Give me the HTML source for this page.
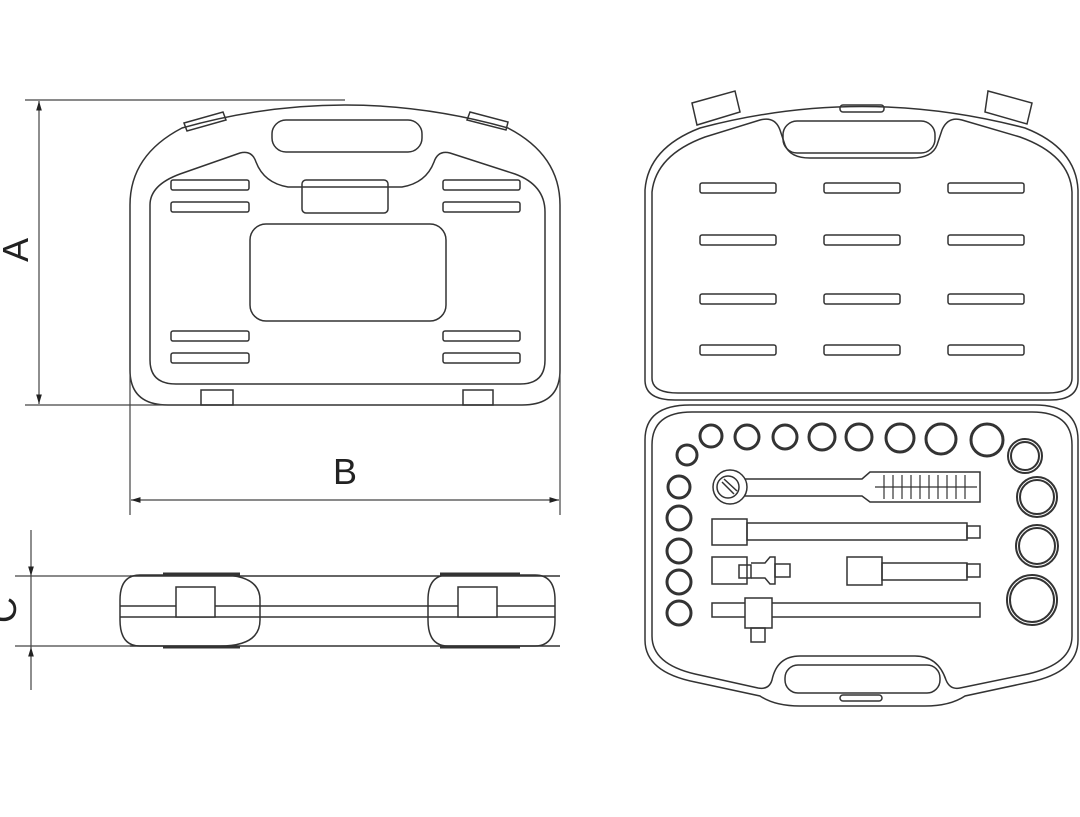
<!DOCTYPE html>
<html><head><meta charset="utf-8"><style>html,body{margin:0;padding:0;background:#fff}svg{display:block}</style></head>
<body>
<svg width="1080" height="817" viewBox="0 0 1080 817" xmlns="http://www.w3.org/2000/svg" font-family="Liberation Sans, sans-serif">
<defs>
<marker id="ar" viewBox="0 0 10 10" refX="10" refY="5" markerWidth="8" markerHeight="8" orient="auto-start-reverse"><path d="M0,2 L10,5 L0,8Z" fill="#222"/></marker>
</defs>
<g fill="none" stroke="#333" stroke-width="1.5">
<path d="M130,370 L130,205 Q130,155 182,128 Q345,82 508,128 Q560,155 560,205 L560,370 Q560,405 522,405 L168,405 Q130,405 130,370Z"/>
<path d="M150,360 L150,205 Q150,185 180,174 L240,153 Q252,150 256,162 Q264,183 288,187 L402,187 Q426,183 434,162 Q438,150 450,153 L515,174 Q545,185 545,212 L545,360 Q545,384 520,384 L176,384 Q150,384 150,360Z"/>
<rect x="272" y="120" width="150" height="32" rx="14"/>
<path d="M184,123 L223,112 L226,120 L187,131Z"/>
<path d="M470,112 L508,122 L506,130 L467,120Z"/>
<rect x="171" y="180" width="78" height="10" rx="2"/>
<rect x="171" y="202" width="78" height="10" rx="2"/>
<rect x="171" y="331" width="78" height="10" rx="2"/>
<rect x="171" y="353" width="78" height="10" rx="2"/>
<rect x="443" y="180" width="77" height="10" rx="2"/>
<rect x="443" y="202" width="77" height="10" rx="2"/>
<rect x="443" y="331" width="77" height="10" rx="2"/>
<rect x="443" y="353" width="77" height="10" rx="2"/>
<rect x="302" y="180" width="86" height="33" rx="4"/>
<rect x="250" y="224" width="196" height="97" rx="16"/>
<rect x="201" y="390" width="32" height="15"/>
<rect x="463" y="390" width="30" height="15"/>
</g>
<g stroke="#444" stroke-width="1.2" fill="none">
<line x1="25" y1="100" x2="345" y2="100"/>
<line x1="25" y1="405" x2="200" y2="405"/>
<line x1="39" y1="101" x2="39" y2="404" marker-start="url(#ar)" marker-end="url(#ar)"/>
<line x1="130" y1="370" x2="130" y2="515"/>
<line x1="560" y1="370" x2="560" y2="515"/>
<line x1="131" y1="500" x2="559" y2="500" marker-start="url(#ar)" marker-end="url(#ar)"/>
<line x1="31" y1="530" x2="31" y2="576" marker-end="url(#ar)"/>
<line x1="31" y1="690" x2="31" y2="647" marker-end="url(#ar)"/>
<line x1="31" y1="576" x2="31" y2="647"/>
<line x1="15" y1="576" x2="130" y2="576"/>
<line x1="15" y1="646" x2="130" y2="646"/>
</g>
<text x="0" y="0" transform="translate(28,250) rotate(-90)" font-size="36" fill="#222" text-anchor="middle">A</text>
<text x="345" y="484" font-size="36" fill="#222" text-anchor="middle">B</text>
<text x="0" y="0" transform="translate(16,610) rotate(-90)" font-size="36" fill="#222" text-anchor="middle">C</text>
<g fill="none" stroke="#333" stroke-width="1.5">
<path d="M140,575 L220,575 Q260,575 260,600 L260,620 Q260,646 220,646 L140,646 Q120,646 120,620 L120,600 Q120,575 140,575Z"/>
<path d="M448,575 L535,575 Q555,575 555,600 L555,620 Q555,646 535,646 L448,646 Q428,646 428,620 L428,600 Q428,575 448,575Z"/>
<line x1="130" y1="576" x2="560" y2="576"/>
<line x1="130" y1="646" x2="560" y2="646"/>
<line x1="120" y1="606" x2="555" y2="606"/>
<line x1="120" y1="617" x2="555" y2="617"/>
<rect x="176" y="587" width="39" height="30" fill="#fff"/>
<rect x="458" y="587" width="39" height="30" fill="#fff"/>
</g>
<g stroke="#333" stroke-width="3"><line x1="163" y1="574" x2="240" y2="574"/><line x1="440" y1="574" x2="520" y2="574"/><line x1="163" y1="647" x2="240" y2="647"/><line x1="440" y1="647" x2="520" y2="647"/></g>
<g fill="none" stroke="#333" stroke-width="1.5">
<path d="M645,380 L645,190 Q648,148 700,128 Q862,85 1025,128 Q1076,148 1078,190 L1078,380 Q1078,400 1050,400 L675,400 Q645,400 645,380Z"/>
<path d="M652,378 L652,192 Q656,155 705,137 L760,120 Q775,116 780,130 L785,145 Q790,158 810,158 L912,158 Q932,158 937,145 L942,130 Q948,116 962,120 L1020,137 Q1070,155 1072,192 L1072,378 Q1072,393 1048,393 L678,393 Q652,393 652,378Z"/>
<rect x="783" y="121" width="152" height="32" rx="14"/>
<rect x="840" y="105" width="44" height="7" rx="3"/>
<path d="M692,103 L735,91 L740,112 L697,125Z"/>
<path d="M988,91 L1032,103 L1027,124 L985,112Z"/>
<rect x="700" y="183" width="76" height="10" rx="2"/><rect x="824" y="183" width="76" height="10" rx="2"/><rect x="948" y="183" width="76" height="10" rx="2"/>
<rect x="700" y="235" width="76" height="10" rx="2"/><rect x="824" y="235" width="76" height="10" rx="2"/><rect x="948" y="235" width="76" height="10" rx="2"/>
<rect x="700" y="294" width="76" height="10" rx="2"/><rect x="824" y="294" width="76" height="10" rx="2"/><rect x="948" y="294" width="76" height="10" rx="2"/>
<rect x="700" y="345" width="76" height="10" rx="2"/><rect x="824" y="345" width="76" height="10" rx="2"/><rect x="948" y="345" width="76" height="10" rx="2"/>
<path d="M645,440 Q645,405 690,405 L1035,405 Q1078,405 1078,440 L1078,640 Q1078,672 1030,682 L965,696 Q950,706 925,706 L800,706 Q775,706 760,696 L695,682 Q645,672 645,640Z"/>
<path d="M652,445 Q652,412 692,412 L1032,412 Q1072,412 1072,445 L1072,636 Q1072,664 1028,674 L960,688 Q950,690 946,680 Q938,656 915,656 L800,656 Q777,656 772,680 Q769,690 758,688 L695,674 Q652,664 652,636Z"/>
<rect x="785" y="665" width="155" height="28" rx="13"/>
<rect x="840" y="695" width="42" height="6" rx="3"/>
</g>
<g fill="none" stroke="#333" stroke-width="3">
<circle cx="711" cy="436" r="11"/><circle cx="747" cy="437" r="12"/><circle cx="785" cy="437" r="12"/><circle cx="822" cy="437" r="13"/><circle cx="859" cy="437" r="13"/><circle cx="900" cy="438" r="14"/><circle cx="941" cy="439" r="15"/><circle cx="987" cy="440" r="16"/>
<circle cx="687" cy="455" r="10"/><circle cx="679" cy="487" r="11"/><circle cx="679" cy="518" r="12"/><circle cx="679" cy="551" r="12"/><circle cx="679" cy="582" r="12"/><circle cx="679" cy="613" r="12"/>
</g>
<g fill="none" stroke="#333" stroke-width="2">
<circle cx="1025" cy="456" r="17"/><circle cx="1037" cy="497" r="20"/><circle cx="1037" cy="546" r="21"/><circle cx="1032" cy="600" r="25"/>
<circle cx="1025" cy="456" r="14"/><circle cx="1037" cy="497" r="17"/><circle cx="1037" cy="546" r="18"/><circle cx="1032" cy="600" r="22"/>
</g>
<g fill="none" stroke="#333" stroke-width="1.5">
<circle cx="730" cy="487" r="17"/><circle cx="728" cy="487" r="11"/>
<line x1="722" y1="482" x2="734" y2="494"/><line x1="724" y1="479" x2="737" y2="491"/>
<path d="M745,479 L862,479 L870,472 L980,472 L980,502 L870,502 L862,496 L745,496"/>
<g stroke-width="1.2"><line x1="884" y1="475" x2="884" y2="499"/><line x1="893" y1="475" x2="893" y2="499"/><line x1="902" y1="475" x2="902" y2="499"/><line x1="911" y1="475" x2="911" y2="499"/><line x1="920" y1="475" x2="920" y2="499"/><line x1="929" y1="475" x2="929" y2="499"/><line x1="938" y1="475" x2="938" y2="499"/><line x1="947" y1="475" x2="947" y2="499"/><line x1="956" y1="475" x2="956" y2="499"/><line x1="965" y1="475" x2="965" y2="499"/><line x1="875" y1="487" x2="977" y2="487"/></g>
<rect x="712" y="519" width="35" height="26"/>
<rect x="747" y="523" width="220" height="17"/>
<rect x="967" y="526" width="13" height="12"/>
<rect x="712" y="557" width="35" height="27"/>
<rect x="739" y="565" width="12" height="13"/>
<path d="M751,563 L765,563 L770,557 L775,557 L775,584 L770,584 L765,578 L751,578"/>
<rect x="775" y="564" width="15" height="13"/>
<rect x="847" y="557" width="35" height="28"/>
<rect x="882" y="563" width="85" height="17"/>
<rect x="967" y="564" width="13" height="13"/>
<rect x="712" y="603" width="268" height="14"/>
<rect x="745" y="598" width="27" height="30" fill="#fff"/>
<rect x="751" y="628" width="14" height="14"/>
</g>
</svg>
</body></html>
